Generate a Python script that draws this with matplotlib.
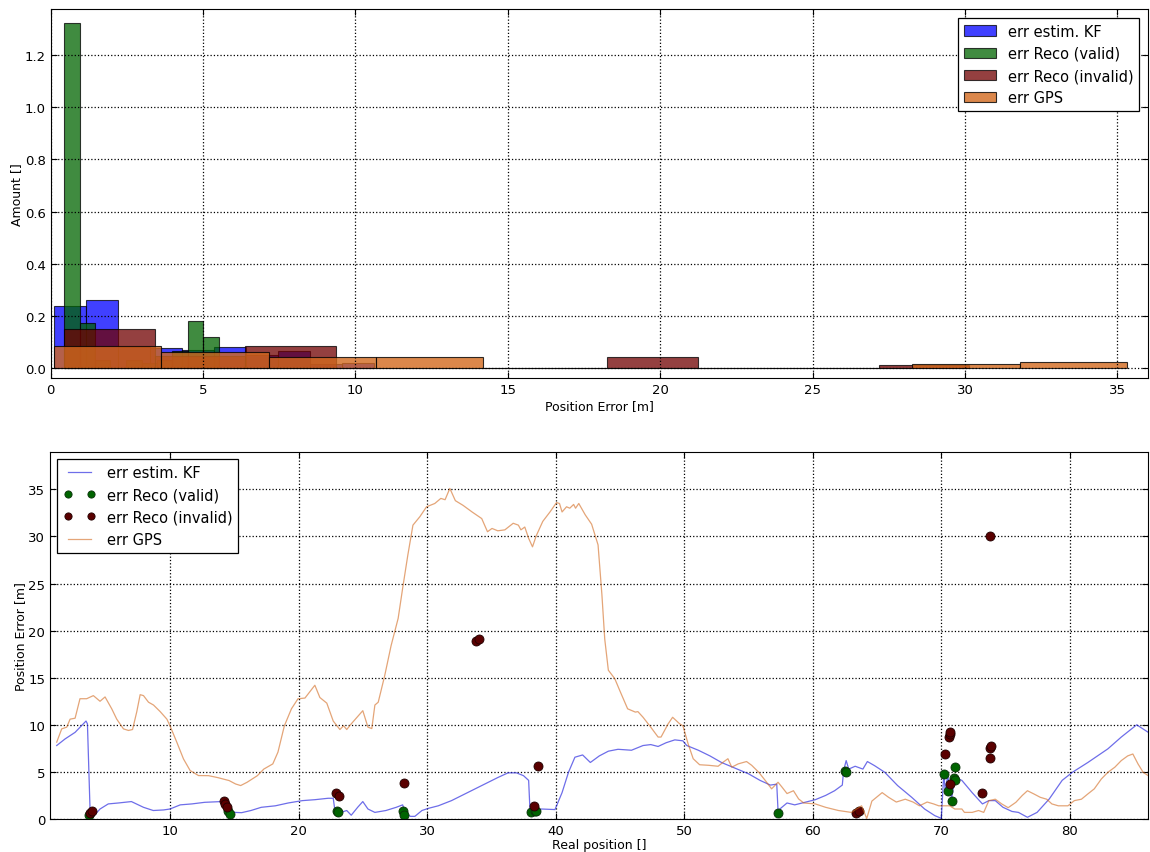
import matplotlib
matplotlib.use("Agg")
import matplotlib.pyplot as plt

# ---- histogram (normed, 10 bins each) ----
kf_edges = [0.11, 1.16, 2.21, 3.26, 4.31, 5.36, 6.41, 7.46, 8.51, 9.56, 10.61]
kf_heights = [0.24, 0.26, 0.08, 0.078, 0.07, 0.08, 0.05, 0.068, 0.015, 0.02]

valid_edges = [0.44, 0.95, 1.45, 1.96, 2.47, 2.98, 3.48, 3.99, 4.50, 5.00, 5.51]
valid_heights = [1.32, 0.175, 0.03, 0.0, 0.03, 0.02, 0.03, 0.065, 0.18, 0.12]

invalid_edges = [0.44, 3.41, 6.38, 9.35, 12.32, 15.29, 18.26, 21.23, 24.20, 27.17, 30.14]
invalid_heights = [0.15, 0.046, 0.085, 0.0, 0.0, 0.0, 0.042, 0.0, 0.0, 0.014]

gps_edges = [0.11, 3.63, 7.15, 10.67, 14.19, 17.71, 21.23, 24.75, 28.27, 31.79, 35.31]
gps_heights = [0.085, 0.0615, 0.042, 0.042, 0.0, 0.0, 0.0, 0.0, 0.017, 0.026]

# ---- error along the track ----
kf_x = [1.19, 1.84, 2.62, 3.14, 3.47, 3.58, 3.79, 3.91, 4.56, 5.2, 5.99, 7.0, 7.94, 8.7, 9.5,
        10.0, 10.8, 11.7, 12.7, 14.0, 14.4, 15.05, 15.57, 16.3, 17.1, 18.2, 19.2, 20.3, 21.28,
        22.3, 22.7, 22.83, 23.3, 23.75, 24.1, 24.6, 25.0, 25.4, 25.94, 26.8, 27.6, 28.1, 28.3,
        28.7, 29.05, 29.6, 30.1, 30.87, 31.9, 32.94, 34.25, 35.5, 36.3, 36.95, 37.5, 37.9, 38.0,
        38.4, 38.9, 39.95, 40.5, 41.0, 41.5, 42.1, 42.7, 43.4, 44.1, 44.85, 45.9, 46.8, 47.4,
        47.97, 48.6, 49.27, 49.9, 50.2, 51.1, 52.0, 52.9, 53.95, 55.0, 55.9, 56.7, 57.2, 57.3,
        58.0, 58.6, 59.4, 60.2, 61.0, 61.7, 62.3, 62.4, 62.6, 62.8, 63.3, 63.9, 64.25, 64.8,
        65.6, 66.6, 67.7, 68.7, 69.5, 70.0, 70.2, 70.3, 70.5, 70.8, 71.05, 71.6, 72.4, 73.2,
        73.7, 74.2, 74.8, 75.5, 76.0, 76.7, 77.45, 78.4, 79.4, 80.2, 81.4, 82.96, 84.0, 85.2, 86.1]
kf_y = [7.8, 8.5, 9.2, 9.93, 10.4, 10.1, 0.7, 0.07, 1.06, 1.6, 1.7, 1.85, 1.24, 0.9, 0.96,
        1.06, 1.5, 1.6, 1.77, 1.85, 0.9, 0.7, 0.67, 0.9, 1.24, 1.4, 1.7, 1.95, 2.05,
        2.2, 2.2, 0.9, 0.7, 0.9, 0.4, 1.24, 1.85, 1.06, 0.7, 0.9, 1.24, 1.5, 0.7,
        0.28, 0.28, 0.9, 1.13, 1.4, 1.95, 2.66, 3.55, 4.4, 4.9, 4.9, 4.6, 4.1, 1.06,
        0.8, 1.06, 1.0, 2.8, 4.96, 6.56, 6.8, 6.0, 6.7, 7.2, 7.4, 7.3, 7.8, 7.9,
        7.7, 8.1, 8.4, 8.3, 7.8, 7.3, 6.7, 6.0, 5.4, 4.8, 4.1, 3.6, 3.7, 0.9,
        1.7, 1.5, 1.77, 2.05, 2.5, 3.0, 3.6, 5.14, 6.2, 5.3, 5.6, 5.3, 6.1, 5.67,
        4.96, 3.55, 2.3, 1.06, 0.35, 0.07, 4.96, 3.0, 4.6, 2.1, 4.4, 4.1, 2.8, 1.6,
        1.95, 1.95, 1.24, 0.8, 0.7, 0.18, 0.7, 2.13, 4.1, 4.96, 6.0, 7.45, 8.7, 10.0, 9.2]

gps_x = [1.19, 1.58, 1.97, 2.23, 2.62, 3.0, 3.52, 4.04, 4.56, 4.95, 5.47, 5.86, 6.38, 6.77,
         7.09, 7.42, 7.68, 7.94, 8.33, 8.72, 9.24, 9.76, 10.0, 10.53, 11.05, 11.57, 12.22,
         13.0, 13.7, 14.6, 15.1, 15.5, 16.0, 16.8, 17.3, 18.0, 18.4, 18.9, 19.45, 19.96,
         20.5, 21.27, 21.66, 22.2, 22.7, 23.22, 23.5, 23.75, 24.1, 25.0, 25.4, 25.7, 25.94,
         26.2, 26.7, 27.2, 27.75, 28.1, 28.5, 28.9, 29.44, 29.96, 30.6, 31.07, 31.4, 31.77,
         32.2, 32.8, 33.5, 34.25, 34.7, 35.05, 35.5, 36.05, 36.7, 37.1, 37.3, 37.6, 37.9,
         38.2, 38.5, 39.0, 39.56, 40.07, 40.3, 40.5, 40.85, 41.1, 41.4, 41.55, 41.8, 42.3,
         42.8, 43.3, 43.6, 43.82, 44.1, 44.6, 45.0, 45.6, 46.2, 46.4, 46.8, 47.4, 47.97,
         48.2, 48.75, 49.1, 49.65, 49.9, 50.3, 50.7, 51.2, 51.9, 52.64, 53.0, 53.4, 53.7,
         54.2, 54.85, 55.25, 55.8, 56.3, 56.8, 57.3, 57.6, 58.0, 58.5, 58.9, 59.3, 60.2,
         61.0, 62.0, 63.0, 63.4, 63.8, 64.2, 64.6, 65.4, 65.9, 66.5, 67.2, 67.8, 68.3,
         68.9, 69.4, 69.8, 70.1, 70.65, 71.05, 71.6, 71.8, 72.4, 72.9, 73.3, 73.7, 74.2,
         74.7, 75.2, 75.8, 76.3, 76.7, 77.2, 77.7, 78.2, 78.6, 79.1, 79.85, 80.35, 80.9,
         81.4, 81.9, 82.45, 82.96, 83.5, 84.0, 84.5, 84.9, 85.3, 85.7, 86.1]
gps_y = [8.16, 9.57, 9.75, 10.6, 10.7, 12.77, 12.77, 13.1, 12.5, 12.96, 11.7, 10.6, 9.57, 9.4,
         9.5, 11.4, 13.2, 13.1, 12.4, 12.1, 11.4, 10.6, 9.9, 8.16, 6.38, 5.14, 4.61,
         4.6, 4.4, 4.08, 3.72, 3.55, 3.9, 4.6, 5.3, 5.85, 7.1, 9.9, 11.7, 12.77,
         12.84, 14.2, 12.9, 12.3, 10.4, 9.5, 9.9, 9.5, 10.1, 11.5, 9.75, 9.6, 12.1,
         12.4, 15.2, 18.4, 21.3, 24.5, 28.0, 31.2, 32.1, 33.15, 33.5, 34.04, 33.9, 35.1,
         33.8, 33.3, 32.6, 31.9, 30.5, 30.85, 30.6, 30.7, 31.4, 31.2, 30.7, 31.0, 29.8,
         28.9, 30.1, 31.6, 32.6, 33.6, 33.5, 32.6, 33.15, 33.0, 33.4, 33.0, 33.5, 32.3,
         31.3, 29.1, 23.8, 19.1, 15.8, 14.9, 13.6, 11.7, 11.35, 11.4, 10.8, 9.75, 8.7,
         8.7, 10.1, 10.8, 10.1, 9.9, 8.0, 6.4, 5.76, 5.7, 5.6, 6.0, 6.4, 5.5,
         5.85, 6.1, 5.7, 4.96, 4.1, 3.2, 3.9, 3.4, 2.7, 3.0, 2.13, 1.7, 1.6,
         1.24, 0.9, 0.7, 1.06, 1.4, 0.05, 1.9, 2.8, 2.3, 1.8, 2.1, 1.8, 1.4,
         1.8, 1.6, 1.4, 1.4, 1.4, 1.06, 1.06, 0.7, 0.7, 0.9, 0.7, 1.95, 2.1,
         1.6, 1.2, 1.77, 2.5, 3.0, 2.66, 2.3, 2.1, 1.6, 1.4, 1.4, 1.95, 2.1,
         2.66, 3.2, 4.25, 4.96, 5.5, 6.2, 6.7, 6.9, 5.85, 4.96, 4.6]

valid_x = [3.74, 14.5, 14.65, 23.0, 23.05, 28.1, 28.2, 38.1, 38.4, 38.5, 57.3, 62.5, 62.6,
           70.2, 70.5, 70.8, 70.95, 71.05, 71.1]
valid_y = [0.43, 0.9, 0.55, 0.9, 0.7, 0.9, 0.43, 0.7, 0.8, 0.9, 0.6, 5.14, 4.96,
           4.8, 3.0, 1.95, 4.4, 4.1, 5.5]

invalid_x = [3.8, 3.91, 14.2, 14.25, 14.4, 22.95, 23.15, 28.2, 33.8, 34.0, 38.35, 38.6,
             63.4, 63.6, 70.3, 70.6, 70.65, 70.7, 70.65, 73.2, 73.75, 73.8, 73.8, 73.9]
invalid_y = [0.6, 0.8, 1.95, 1.6, 1.24, 2.8, 2.45, 3.8, 18.9, 19.1, 1.4, 5.67,
             0.6, 0.8, 6.85, 8.7, 9.0, 9.2, 3.7, 2.8, 30.0, 6.5, 7.5, 7.7]

labels = ["err estim. KF", "err Reco (valid)", "err Reco (invalid)", "err GPS"]

fig = plt.figure(figsize=(11.5, 8.53), dpi=100)

# top: histogram
ax1 = fig.add_axes([0.0441, 0.5557, 0.9541, 0.4326])
hist_sets = [(kf_edges, kf_heights, "#0000ff", 0.75),
             (valid_edges, valid_heights, "#006400", 0.75),
             (invalid_edges, invalid_heights, "#700000", 0.75),
             (gps_edges, gps_heights, "#d2691e", 0.8)]
for (edges, heights, col, a), lab in zip(hist_sets, labels):
    widths = [edges[i + 1] - edges[i] for i in range(len(heights))]
    ax1.bar(edges[:-1], heights, width=widths, align="edge", color=col, alpha=a,
            edgecolor="black", linewidth=0.8, label=lab)
ax1.set_xlim(0, 36)
ax1.set_ylim(-0.037, 1.375)
ax1.set_xticks(range(0, 40, 5))
ax1.set_yticks([0.0, 0.2, 0.4, 0.6, 0.8, 1.0, 1.2])
ax1.set_xlabel("Position Error [m]", fontsize=9, labelpad=2)
ax1.set_ylabel("Amount []", fontsize=9, labelpad=1)
ax1.grid(True, color="black", linestyle=":", linewidth=0.9)
ax1.tick_params(direction="in", labelsize=9.5, top=True, right=True, length=4)
leg1 = ax1.legend(loc="upper right", fontsize=10.5, fancybox=False, framealpha=1,
                  edgecolor="black", borderaxespad=0.6, handlelength=2.2)
leg1.get_frame().set_linewidth(0.9)

# bottom: error along the path
ax2 = fig.add_axes([0.0435, 0.0387, 0.9550, 0.4306])
ax2.plot(kf_x, kf_y, color="#3030e0", alpha=0.7, linewidth=0.9, label=labels[0])
ax2.plot(valid_x, valid_y, "o", color="#006400", markeredgecolor="#0a300a",
         markersize=6.5, markeredgewidth=0.6, label=labels[1])
ax2.plot(invalid_x, invalid_y, "o", color="#5a0000", markeredgecolor="#200000",
         markersize=6.5, markeredgewidth=0.6, label=labels[2])
ax2.plot(gps_x, gps_y, color="#d2691e", alpha=0.6, linewidth=0.9, label=labels[3])
ax2.set_xlim(0.67, 86.1)
ax2.set_ylim(0, 39)
ax2.set_xticks(range(10, 90, 10))
ax2.set_yticks(range(0, 40, 5))
ax2.set_xlabel("Real position []", fontsize=9, labelpad=1)
ax2.set_ylabel("Position Error [m]", fontsize=9, labelpad=1)
ax2.grid(True, color="black", linestyle=":", linewidth=0.9)
ax2.tick_params(direction="in", labelsize=9.5, top=True, right=True, length=4)
leg2 = ax2.legend(loc="upper left", fontsize=10.5, numpoints=2, fancybox=False,
                  framealpha=1, edgecolor="black", borderaxespad=0.5, handlelength=2.2,
                  markerscale=0.8)
leg2.get_frame().set_linewidth(0.9)

fig.savefig("out.png", dpi=100)
